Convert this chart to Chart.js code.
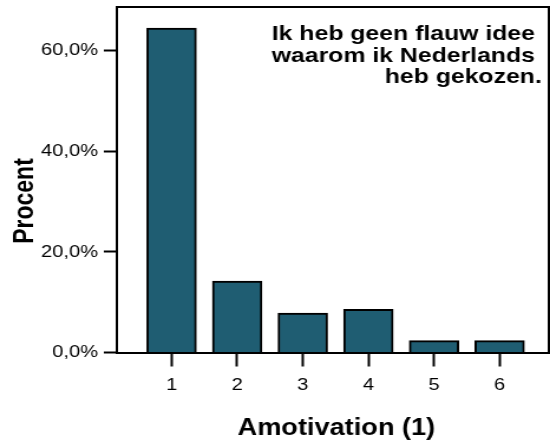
<!DOCTYPE html>
<html>
<head>
<meta charset="utf-8">
<script src="https://cdn.jsdelivr.net/npm/chart.js@4"></script>
<style>
  html, body { margin: 0; padding: 0; background: #fff; overflow: hidden; }
  /* the reference is a slightly widened SPSS export, so the chart is drawn narrower and stretched */
  #wrap { width: 466px; height: 446px; transform: scaleX(1.1803); transform-origin: 0 0; }
</style>
</head>
<body>
<div id="wrap"><canvas id="amotChart"></canvas></div>
<script>
// --- data ---
const categories = [1, 2, 3, 4, 5, 6];
const percentages = [64.5, 14.2, 7.85, 8.6, 2.35, 2.35];
const yTicks = [0, 20, 40, 60];
const titleLines = ['Ik heb geen flauw idee ', 'waarom ik Nederlands ', 'heb gekozen.'];
const xTitle = 'Amotivation (1)';
const yTitle = 'Procent';

const FONT = "'Liberation Sans', Arial, Helvetica, sans-serif";

// frame (top + right) and the free text blocks
const frameAndText = {
    id: 'frameAndText',
    afterDraw: function (chart) {
        const ctx = chart.ctx;
        const a = chart.chartArea;
        ctx.save();
        ctx.strokeStyle = '#000';
        ctx.lineWidth = 2;
        ctx.beginPath();
        ctx.moveTo(a.left, a.top);
        ctx.lineTo(a.right, a.top);
        ctx.lineTo(a.right, a.bottom);
        ctx.stroke();

        ctx.fillStyle = '#000';
        ctx.font = 'bold 21px ' + FONT;
        ctx.textAlign = 'right';
        ctx.textBaseline = 'alphabetic';
        titleLines.forEach(function (line, i) {
            ctx.fillText(line, a.right - 6, 40 + i * 21.7);
        });

        ctx.font = 'bold 23px ' + FONT;
        ctx.textAlign = 'center';
        ctx.fillText(xTitle, (a.left + a.right) / 2 + 3, 435);

        ctx.translate(28, 201);
        ctx.rotate(-Math.PI / 2);
        ctx.fillText(yTitle, 0, 0);
        ctx.restore();
    }
};

const ctxAmot = document.getElementById('amotChart').getContext('2d');
new Chart(ctxAmot, {
    type: 'bar',
    data: {
        datasets: [{
            data: categories.map(function (c, i) { return { x: c, y: percentages[i] }; }),
            backgroundColor: '#1f5d72',
            borderColor: '#000',
            borderWidth: 2,
            barThickness: 42
        }]
    },
    options: {
        responsive: true,
        maintainAspectRatio: false,
        animation: false,
        layout: { padding: { top: 7, right: 1, left: 0, bottom: 0 } },
        plugins: {
            legend: { display: false },
            tooltip: { enabled: false }
        },
        scales: {
            x: {
                type: 'linear',
                min: 0.166,
                max: 6.75,
                offset: false,
                afterBuildTicks: function (scale) {
                    scale.ticks = categories.map(function (v) { return { value: v }; });
                },
                afterFit: function (scale) { scale.height = 93.5; },
                grid: { offset: false, drawOnChartArea: false, tickLength: 14, tickWidth: 2, tickColor: '#000' },
                border: { color: '#000', width: 2 },
                ticks: {
                    color: '#000',
                    padding: 9,
                    maxRotation: 0,
                    font: { family: FONT, size: 17 },
                    callback: function (v) { return String(v); }
                }
            },
            y: {
                min: 0,
                max: 68.7,
                afterBuildTicks: function (scale) {
                    scale.ticks = yTicks.map(function (v) { return { value: v }; });
                },
                afterFit: function (scale) {
                    scale.width = 99;
                    scale.paddingTop = 0;
                    scale.paddingBottom = 0;
                },
                grid: { drawOnChartArea: false, tickLength: 11, tickWidth: 2, tickColor: '#000' },
                border: { color: '#000', width: 2 },
                ticks: {
                    color: '#000',
                    padding: 5,
                    font: { family: FONT, size: 17 },
                    callback: function (v) { return v.toFixed(1).replace('.', ',') + '%'; }
                }
            }
        }
    },
    plugins: [frameAndText]
});
</script>
</body>
</html>
